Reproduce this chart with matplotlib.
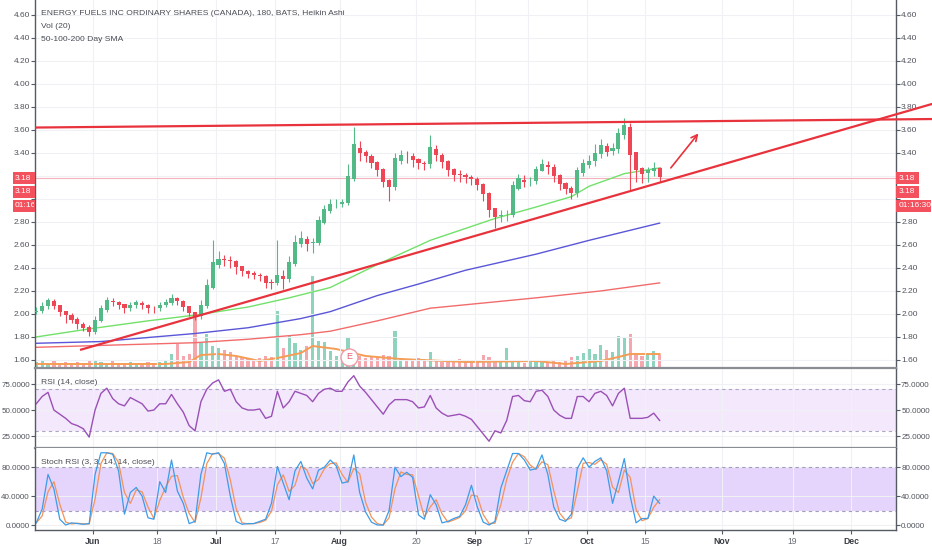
#!/usr/bin/env python3
# -*- coding: utf-8 -*-
"""
Energy Fuels, 180 min Heikin Ashi candles with volume, SMAs, RSI and Stoch RSI.
"""

import numpy as np
import pandas as pd
import matplotlib
matplotlib.use("Agg")
import matplotlib.pyplot as plt
import matplotlib.transforms as mtransforms
from matplotlib.patches import Rectangle
from matplotlib.ticker import FuncFormatter

plt.rcParams['font.family'] = ['Liberation Sans', 'DejaVu Sans']

# ---------------------------------------------------------------- data
first_day = "2018-05-17"
holidays = ["2018-05-28", "2018-07-04", "2018-09-03"]

# one candle per session, May 17 .. Oct 17 2018
ha_close = [2.03, 2.07, 2.12, 2.07, 2.02, 1.99, 1.95, 1.91, 1.88, 1.84,
            1.95, 2.05, 2.12, 2.10, 2.08, 2.05, 2.08, 2.10, 2.08, 2.05, 2.05,
            2.08, 2.10, 2.14, 2.11, 2.06, 2.01, 1.98, 2.08, 2.25, 2.45,
            2.48, 2.47, 2.46, 2.41, 2.37, 2.35, 2.34, 2.33, 2.27, 2.27,
            2.34, 2.30, 2.45, 2.63, 2.66, 2.61, 2.62, 2.82, 2.91, 2.96,
            2.96, 2.97, 3.20, 3.48, 3.40, 3.37, 3.31, 3.25, 3.15, 3.10,
            3.36, 3.38, 3.37, 3.34, 3.31, 3.30, 3.45, 3.38, 3.32, 3.25,
            3.21, 3.21, 3.19, 3.17, 3.12, 3.04, 2.90, 2.84, 2.86, 2.86,
            3.12, 3.18, 3.15, 3.16, 3.26, 3.30, 3.28, 3.20, 3.13, 3.09,
            3.05, 3.25, 3.31, 3.33, 3.40, 3.47, 3.41, 3.44, 3.57, 3.64,
            3.38, 3.25, 3.22, 3.25, 3.27, 3.19]
ha_high = [2.06, 2.10, 2.14, 2.13, 2.08, 2.03, 2.01, 1.97, 1.93, 1.90,
           1.98, 2.08, 2.15, 2.14, 2.11, 2.09, 2.10, 2.12, 2.11, 2.09, 2.07,
           2.10, 2.13, 2.17, 2.15, 2.12, 2.07, 2.02, 2.12, 2.30, 2.64,
           2.55, 2.51, 2.50, 2.47, 2.41, 2.38, 2.37, 2.36, 2.34, 2.30,
           2.64, 2.38, 2.50, 2.69, 2.72, 2.68, 2.66, 2.85, 2.95, 3.00,
           3.00, 3.00, 3.30, 3.63, 3.50, 3.43, 3.39, 3.33, 3.27, 3.17,
           3.40, 3.43, 3.42, 3.40, 3.36, 3.33, 3.56, 3.47, 3.40, 3.34,
           3.27, 3.25, 3.23, 3.21, 3.19, 3.14, 3.06, 2.92, 2.90, 2.90,
           3.16, 3.22, 3.21, 3.19, 3.29, 3.35, 3.33, 3.30, 3.22, 3.15,
           3.11, 3.28, 3.35, 3.38, 3.48, 3.52, 3.49, 3.49, 3.62, 3.70,
           3.66, 3.40, 3.28, 3.28, 3.32, 3.28]
ha_low = [2.00, 2.01, 2.04, 2.04, 1.98, 1.92, 1.92, 1.87, 1.85, 1.81,
          1.83, 1.93, 2.02, 2.07, 2.04, 2.01, 2.03, 2.05, 2.04, 2.01, 2.01,
          2.03, 2.06, 2.08, 2.08, 2.03, 1.98, 1.95, 1.96, 2.05, 2.22,
          2.40, 2.42, 2.40, 2.35, 2.33, 2.31, 2.30, 2.29, 2.23, 2.22,
          2.25, 2.22, 2.28, 2.42, 2.58, 2.55, 2.53, 2.60, 2.78, 2.88,
          2.92, 2.93, 2.95, 3.16, 3.33, 3.32, 3.27, 3.20, 3.10, 2.98,
          3.08, 3.30, 3.31, 3.28, 3.26, 3.25, 3.27, 3.33, 3.27, 3.20,
          3.16, 3.15, 3.14, 3.12, 3.08, 2.98, 2.84, 2.75, 2.80, 2.81,
          2.84, 3.08, 3.10, 3.11, 3.13, 3.24, 3.22, 3.15, 3.08, 3.04,
          3.00, 3.02, 3.20, 3.27, 3.29, 3.36, 3.37, 3.38, 3.40, 3.52,
          3.08, 3.15, 3.14, 3.15, 3.20, 3.15]
volume_k = [60, 80, 50, 70, 50, 60, 40, 60, 50, 70,
            80, 60, 50, 70, 50, 40, 60, 50, 40, 60, 50,
            60, 80, 140, 240, 120, 140, 540,
            250, 340, 220, 200, 180, 160,
            120, 100, 90, 80, 100, 120, 110,
            570, 200, 320, 250, 180, 220, 920,
            270, 260, 170, 120, 140, 310,
            140, 120, 100, 120, 110, 130, 120, 370,
            100, 90, 80, 100, 90, 160,
            70, 60, 80, 60, 90, 70, 60, 80, 130, 110, 80, 70, 200,
            60, 70, 50, 60, 80, 60, 50, 70, 60, 70, 110,
            120, 150, 190, 140, 230, 180, 160, 320, 310, 340,
            140, 120, 150, 170, 130]
rsi14 = [56, 63, 67, 50, 46, 42, 37, 35, 32, 24,
         50, 66, 71, 61, 56, 54, 62, 59, 56, 49, 50,
         56, 56, 65, 56, 48, 35, 30, 58, 70, 76,
         79, 68, 70, 58, 52, 50, 50, 51, 42, 44,
         68, 52, 58, 68, 66, 64, 58,
         66, 70, 71, 68, 68, 77, 83, 73, 67, 60, 53, 46,
         55, 60, 60, 60, 58, 52, 53, 64, 52, 47,
         44, 45, 46, 44, 41, 34, 27, 20, 30, 28,
         40, 63, 64, 59, 58, 68, 69, 63, 50, 45,
         42, 42, 63, 63, 58, 66, 68, 64, 54, 66,
         71, 42, 42, 42, 43, 47, 40]
stoch_k = [3, 22, 70, 50, 8, 0, 3, 2, 1, 2,
           70, 100, 100, 98, 75, 15, 45, 52, 40, 10, 8,
           60, 45, 90, 47, 30, 2, 5, 70, 100, 98,
           100, 85, 40, 5, 1, 2, 2, 5, 8, 30,
           81, 58, 35, 75, 88, 65, 50, 76, 80, 90,
           82, 58, 60, 97, 45, 18, 4, 0, 0, 20,
           80, 67, 73, 66, 14, 8, 42, 28, 3, 5,
           9, 12, 28, 55, 25, 4, 0, 5, 51, 75,
           99, 99, 90, 76, 78, 97, 70, 25, 8, 5,
           15, 78, 93, 80, 88, 93, 75, 30, 60, 92,
           40, 3, 9, 9, 40, 30]

sma50_dates = ["2018-05-17", "2018-05-31", "2018-06-14", "2018-06-26", "2018-07-10",
               "2018-07-19", "2018-07-30", "2018-08-09", "2018-08-22", "2018-09-07",
               "2018-09-18", "2018-09-26", "2018-10-01", "2018-10-09", "2018-10-17"]
sma50 = [1.80, 1.87, 1.94, 1.99, 2.06, 2.14, 2.23, 2.43, 2.64, 2.83,
         2.93, 3.02, 3.11, 3.22, 3.27]
sma100_dates = ["2018-05-17", "2018-06-04", "2018-06-26", "2018-07-10", "2018-07-23",
                "2018-07-30", "2018-08-09", "2018-08-20", "2018-08-30", "2018-09-18",
                "2018-10-01", "2018-10-17"]
sma100 = [1.745, 1.76, 1.83, 1.88, 1.96, 2.02, 2.16, 2.26, 2.38, 2.52, 2.64, 2.79]
sma200_dates = ["2018-05-17", "2018-06-26", "2018-07-10", "2018-07-23", "2018-07-30",
                "2018-08-09", "2018-08-22", "2018-09-18", "2018-10-03", "2018-10-17"]
sma200 = [1.71, 1.75, 1.78, 1.82, 1.85, 1.94, 2.05, 2.14, 2.20, 2.27]
volma_dates = ["2018-05-17", "2018-06-19", "2018-06-25", "2018-06-27", "2018-07-02",
               "2018-07-06", "2018-07-12", "2018-07-17", "2018-07-23", "2018-07-25",
               "2018-07-31", "2018-08-07", "2018-08-15", "2018-08-30", "2018-09-18",
               "2018-09-25", "2018-10-03", "2018-10-08", "2018-10-10", "2018-10-17"]
volma = [40, 40, 60, 130, 140, 120, 70, 100, 150, 220,
         190, 120, 90, 60, 70, 40, 70, 110, 140, 140]

last_price = 3.18
countdown = "01:16:30"
earnings_at = "2018-08-02 13:30"

# drawings (time, price)
resistance = [("2018-05-17 10:45", 3.621), ("2018-12-21 09:30", 3.695)]
support = [("2018-05-29 15:00", 1.687), ("2018-12-21 09:30", 3.83)]
arrow = [("2018-10-19 11:30", 3.27), ("2018-10-26 09:30", 3.57)]

tick_dates = ["2018-06-01", "2018-06-18", "2018-07-02", "2018-07-17", "2018-08-01",
              "2018-08-20", "2018-09-04", "2018-09-17", "2018-10-01", "2018-10-15",
              "2018-11-01", "2018-11-19", "2018-12-03"]
tick_labels = ["Jun", "18", "Jul", "17", "Aug", "20", "Sep", "17", "Oct", "15",
               "Nov", "19", "Dec"]

title = "ENERGY FUELS INC ORDINARY SHARES (CANADA), 180, BATS, Heikin Ashi"


def xpos(stamp):
    # trading-session index, 09:30-16:00 maps to [0, 1)
    t = pd.Timestamp(stamp)
    day = np.busday_count(first_day, t.strftime("%Y-%m-%d"), holidays=holidays)
    if t.hour == 0 and t.minute == 0:
        return day + 0.4
    return day + (t.hour * 60 + t.minute - 570) / 390.0


UP, DOWN = "#53b987", "#ef4655"
VUP, VDOWN = "#8ed3bd", "#f4a7ae"
AXC, TXT = "#555a63", "#50545c"
FS = 6.0

W, H = 932, 550
fig = plt.figure(figsize=(W / 100, H / 100), dpi=100, facecolor="white")


def pane(top, bottom):
    return [35 / W, 1 - bottom / H, 861 / W, (bottom - top) / H]


ax_vol = fig.add_axes(pane(0, 368))
ax = fig.add_axes(pane(0, 368), sharex=ax_vol)
ax_rsi = fig.add_axes(pane(368, 448), sharex=ax_vol)
ax_sto = fig.add_axes(pane(448, 530), sharex=ax_vol)
ax_vol.set_zorder(0)
ax.set_zorder(1)
ax.patch.set_visible(False)

n = len(ha_close)
x = np.arange(n) + 0.4

# Heikin Ashi open, three 180-min bars per session
ha_open = [2.02]
for i in range(1, n):
    o = ha_open[-1]
    for _ in range(3):
        o = (o + ha_close[i - 1]) / 2
    ha_open.append(o)
o = np.array(ha_open)
c = np.array(ha_close)
hi = np.maximum(np.array(ha_high), np.maximum(o, c))
lo = np.minimum(np.array(ha_low), np.minimum(o, c))
up = c >= o
cols = np.where(up, UP, DOWN)

# volume
ax_vol.bar(x, volume_k, width=0.55, color=np.where(up, VUP, VDOWN), linewidth=0)
ax_vol.plot([xpos(d) for d in volma_dates], volma, color="#f59d55", lw=1.4)
ax_vol.set_ylim(0, 3680)
ax_vol.axis("off")

# grid
for a in (ax, ax_rsi, ax_sto):
    a.grid(True, color="#f0f1f4", lw=0.8)
    a.set_axisbelow(True)

# SMAs
ax.plot([xpos(d) for d in sma200_dates], sma200, color="#f26c6c", lw=1, zorder=2)
ax.plot([xpos(d) for d in sma100_dates], sma100, color="#5a56d8", lw=1, zorder=2)
ax.plot([xpos(d) for d in sma50_dates], sma50, color="#72e16a", lw=1, zorder=2)

# candles
ax.vlines(x, lo, hi, colors=cols, lw=0.8, zorder=3)
ax.bar(x, np.maximum(np.abs(c - o), 0.006), bottom=np.minimum(o, c), width=0.7,
       color=cols, linewidth=0, zorder=4)

ax.axhline(last_price, color="#f6b2ba", lw=0.8, zorder=1)

# trend lines and arrow
for line in (resistance, support):
    ax.plot([xpos(t) for t, _ in line], [p for _, p in line], color="#e8323c",
            lw=1.6, zorder=6, clip_on=False, solid_capstyle="butt")
ax.annotate("", xy=(xpos(arrow[1][0]), arrow[1][1]),
            xytext=(xpos(arrow[0][0]), arrow[0][1]),
            arrowprops=dict(arrowstyle="->", color="#e8323c", lw=1.2,
                            mutation_scale=11, shrinkA=0, shrinkB=0), zorder=6)

# earnings marker
btrans = mtransforms.blended_transform_factory(ax.transData, ax.transAxes)
ax.scatter([xpos(earnings_at)], [0.03], transform=btrans, s=150, facecolor="white",
           edgecolor="#f09aa6", lw=1, zorder=7, clip_on=False)
ax.text(xpos(earnings_at), 0.03, "E", transform=btrans, ha="center", va="center",
        color="#e85a70", fontsize=6.5, zorder=8)

# RSI
ax_rsi.axhspan(30, 70, color="#f4e8fd", lw=0, zorder=0)
for lvl in (30, 70):
    ax_rsi.axhline(lvl, color="#aaa6c6", lw=0.8, ls=(0, (3, 3)))
ax_rsi.plot(x, rsi14, color="#9a50b5", lw=1)
ax_rsi.set_ylim(13.5, 90.4)
ax_rsi.set_yticks([25, 50, 75])

# Stoch RSI, %D is the 3-bar SMA of %K
stoch_d = pd.Series(stoch_k, dtype=float).rolling(2, min_periods=1).mean()
ax_sto.axhspan(20, 80, color="#e5d4fb", lw=0, zorder=0)
for lvl in (20, 80):
    ax_sto.axhline(lvl, color="#a39cc0", lw=0.8, ls=(0, (3, 3)))
ax_sto.plot(x, stoch_d, color="#f3935a", lw=0.9)
ax_sto.plot(x, stoch_k, color="#3c9ce8", lw=0.9)
ax_sto.set_ylim(-6.9, 106.6)
ax_sto.set_yticks([0, 40, 80])

# axes styling
ax.set_xlim(0.187, 146.6)
ax.set_ylim(1.53, 4.73)
ax.set_yticks(np.round(np.arange(1.6, 4.61, 0.2), 2))


def price_fmt(v, _):
    # labels under the last-price tags are hidden, as on the price scale
    return "" if 2.9 < v < 3.25 else f"{v:.2f}"


ax.yaxis.set_major_formatter(FuncFormatter(price_fmt))
for a in (ax_rsi, ax_sto):
    a.yaxis.set_major_formatter(FuncFormatter(lambda v, _: f"{v:.4f}"))

for a in (ax, ax_rsi, ax_sto):
    a.yaxis.set_ticks_position("both")
    a.tick_params(axis="y", which="both", left=True, right=True, labelleft=True,
                  labelright=True, direction="out", length=2.9, width=0.8, color=AXC,
                  labelsize=FS, labelcolor=TXT, pad=0.8)
    a.spines["top"].set_visible(False)
    for s in ("left", "right"):
        a.spines[s].set_color(AXC)
        a.spines[s].set_linewidth(1)
    a.spines["bottom"].set_color("#8a8d93")
    a.spines["bottom"].set_linewidth(1.6)
for a in (ax_rsi, ax_sto):
    a.tick_params(axis="y", labelsize=5.8)

for a in (ax, ax_rsi):
    a.tick_params(axis="x", bottom=False, labelbottom=False)

ax_sto.spines["bottom"].set_color(AXC)
ax_sto.spines["bottom"].set_linewidth(1)
ax_sto.set_xticks([xpos(d + " 09:30") for d in tick_dates])
ax_sto.set_xticklabels(tick_labels)
ax_sto.tick_params(axis="x", direction="out", length=2.6, width=0.8, color=AXC,
                   labelsize=6.2, pad=2.5)
for lab in ax_sto.get_xticklabels():
    if lab.get_text().isalpha():
        lab.set_color("#3a3d44")
        lab.set_fontweight("bold")
    else:
        lab.set_color("#6a6e76")

# legends
for ytop, s in ((13.5, title), (26.5, "Vol (20)"), (39.5, "50-100-200 Day SMA")):
    fig.text(41 / W, 1 - ytop / H, s, fontsize=6.1, color="#4a4d55", va="center")
fig.text(41 / W, 1 - 382.7 / H, "RSI (14, close)", fontsize=6.1, color="#4a4d55",
         va="center")
fig.text(41 / W, 1 - 462.3 / H, "Stoch RSI (3, 3, 14, 14, close)", fontsize=6.1,
         color="#4a4d55", va="center")

# last-price tags on both price scales
ident = mtransforms.IdentityTransform()
y0 = ax.transData.transform((0, last_price))[1]
labels = [(f"{last_price:.2f}", 0.0), (f"{last_price:.2f}", -13.7), (countdown, -27.4)]
for txt, dy in labels:
    yc = y0 + dy
    w = 23 if len(txt) <= 4 else 35
    fig.add_artist(Rectangle((896, yc - 6), w, 12, transform=ident, fc="#f4515f",
                             ec="none", zorder=10))
    fig.text(899, yc, txt, transform=ident, color="white", fontsize=FS,
             va="center", ha="left", zorder=11)
    fig.add_artist(Rectangle((13, yc - 6), 22, 12, transform=ident, fc="#f4515f",
                             ec="none", zorder=10))
    t = fig.text(15, yc, txt, transform=ident, color="white", fontsize=FS,
                 va="center", ha="left", zorder=11)
    t.set_clip_box(mtransforms.Bbox([[13, yc - 7], [34, yc + 7]]))
    t.set_clip_on(True)

fig.savefig("out.png", dpi=100, facecolor="white")
